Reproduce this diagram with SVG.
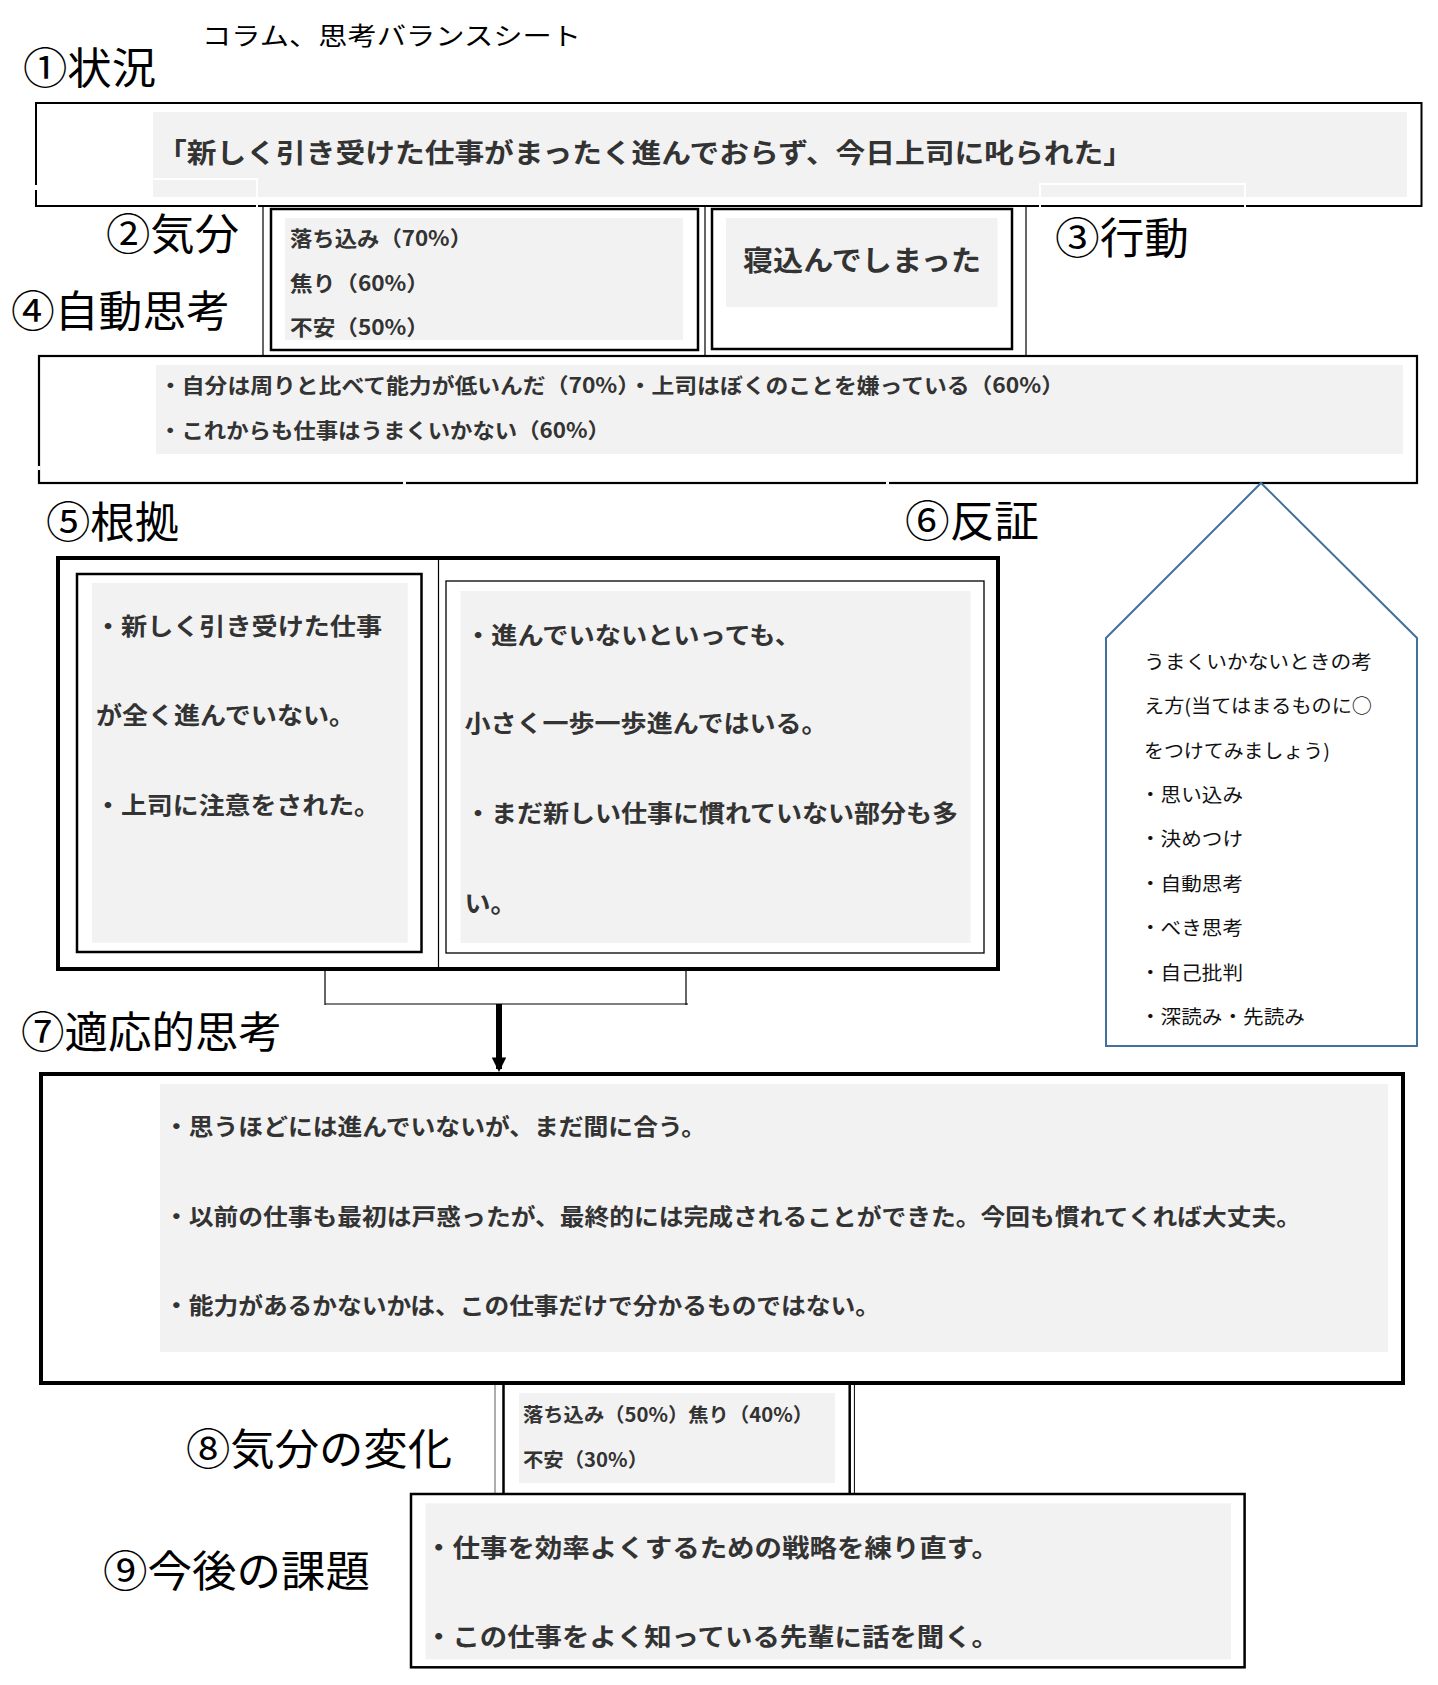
<svg xmlns="http://www.w3.org/2000/svg" width="1438" height="1685" viewBox="0 0 1438 1685">
<defs>
<style>
.h{font-family:"Noto Sans CJK JP","Noto Sans CJK SC",sans-serif;font-size:43px;fill:#000;}
.ti{font-family:"Noto Sans CJK JP","Noto Sans CJK SC",sans-serif;font-size:25px;fill:#000;}
.t{font-family:"Noto Sans CJK JP","Noto Sans CJK SC",sans-serif;font-weight:700;fill:#333;}
.m{font-family:"Noto Sans CJK JP","Noto Sans CJK SC",sans-serif;font-size:19px;fill:#111;}
.bg{fill:#f2f2f2;}
.bx{fill:#fff;stroke:#000;}
.ln{fill:none;stroke:#000;}
.wh{fill:none;stroke:#fff;stroke-width:2;}
</style>
<marker id="ah" viewBox="0 0 10 10" refX="8" refY="5" markerWidth="2.4" markerHeight="2.4" orient="auto" markerUnits="strokeWidth">
<path d="M0,0 L10,5 L0,10 z" fill="#000"/>
</marker>
</defs>
<rect width="1438" height="1685" fill="#fff"/>

<text class="ti" x="202" y="45" textLength="379" lengthAdjust="spacingAndGlyphs">コラム、思考バランスシート</text>

<g id="labels">
<text class="h" x="23" y="84" textLength="133" lengthAdjust="spacingAndGlyphs">①状況</text>
<text class="h" x="106" y="250" textLength="133" lengthAdjust="spacingAndGlyphs">②気分</text>
<text class="h" x="1055" y="254" textLength="134" lengthAdjust="spacingAndGlyphs">③行動</text>
<text class="h" x="11" y="327" textLength="219" lengthAdjust="spacingAndGlyphs">④自動思考</text>
<text class="h" x="46" y="538" textLength="133" lengthAdjust="spacingAndGlyphs">⑤根拠</text>
<text class="h" x="905" y="537" textLength="134" lengthAdjust="spacingAndGlyphs">⑥反証</text>
<text class="h" x="21" y="1048" textLength="261" lengthAdjust="spacingAndGlyphs">⑦適応的思考</text>
<text class="h" x="186" y="1465" textLength="266" lengthAdjust="spacingAndGlyphs">⑧気分の変化</text>
<text class="h" x="103" y="1587" textLength="267" lengthAdjust="spacingAndGlyphs">⑨今後の課題</text>
</g>

<g id="situation">
<rect class="bx" x="36" y="103" width="1385.5" height="103" stroke-width="2"/>
<rect class="bg" x="153" y="112" width="1254" height="85"/>
<text class="t" x="157" y="163" font-size="27" textLength="976" lengthAdjust="spacingAndGlyphs">「新しく引き受けた仕事がまったく進んでおらず、今日上司に叱られた」</text>
<path class="wh" d="M153,179 H257 V209"/>
<path class="wh" d="M1040,209 V184 H1245 V209"/>
<path d="M36,185 V190" stroke="#fff" stroke-width="3"/>
</g>

<g id="frame-lines">
<path class="ln" stroke-width="1.2" d="M263,206 V358 M705,206 V358 M1026,206 V358"/>
</g>

<g id="mood">
<rect class="bx" x="271" y="209" width="427" height="141" stroke-width="2.5"/>
<rect class="bg" x="285" y="218" width="398" height="122"/>
<text class="t" x="290" y="246" font-size="21" textLength="182" lengthAdjust="spacingAndGlyphs">落ち込み（70%）</text>
<text class="t" x="290" y="291" font-size="21" textLength="139" lengthAdjust="spacingAndGlyphs">焦り（60%）</text>
<text class="t" x="290" y="335" font-size="21" textLength="139" lengthAdjust="spacingAndGlyphs">不安（50%）</text>
</g>

<g id="action">
<rect class="bx" x="712" y="209" width="300" height="140" stroke-width="2.5"/>
<rect class="bg" x="726" y="218" width="271.5" height="89"/>
<text class="t" x="743" y="271" font-size="28" textLength="238" lengthAdjust="spacingAndGlyphs">寝込んでしまった</text>
</g>

<g id="auto-thought">
<rect class="bx" x="39" y="356" width="1378" height="127" stroke-width="2.2"/>
<rect class="bg" x="156" y="365" width="1247" height="89"/>
<text class="t" x="159" y="393" font-size="21" textLength="905" lengthAdjust="spacingAndGlyphs">・自分は周りと比べて能力が低いんだ（70%）・上司はぼくのことを嫌っている（60%）</text>
<text class="t" x="159" y="438" font-size="21" textLength="451" lengthAdjust="spacingAndGlyphs">・これからも仕事はうまくいかない（60%）</text>
<path d="M39,466 V470 M403,483 H406 M886,483 H889" stroke="#fff" stroke-width="3"/>
</g>

<g id="evidence">
<rect class="bx" x="58" y="558" width="940" height="411" stroke-width="4"/>
<path class="ln" stroke-width="1.2" d="M438.5,560 V967"/>
<rect class="bx" x="77" y="574" width="344.5" height="378" stroke-width="2.5"/>
<rect class="bg" x="92" y="583" width="315.7" height="359.7"/>
<text class="t" x="95" y="635" font-size="24" textLength="287" lengthAdjust="spacingAndGlyphs">・新しく引き受けた仕事</text>
<text class="t" x="96" y="724" font-size="24" textLength="259" lengthAdjust="spacingAndGlyphs">が全く進んでいない。</text>
<text class="t" x="95" y="814" font-size="24" textLength="285" lengthAdjust="spacingAndGlyphs">・上司に注意をされた。</text>
</g>

<g id="counter">
<rect class="bx" x="446" y="581" width="538" height="372" stroke-width="1.3"/>
<rect class="bg" x="460.5" y="591" width="510" height="352"/>
<text class="t" x="465" y="644" font-size="24" textLength="336" lengthAdjust="spacingAndGlyphs">・進んでいないといっても、</text>
<text class="t" x="464.5" y="732" font-size="24" textLength="363" lengthAdjust="spacingAndGlyphs">小さく一歩一歩進んではいる。</text>
<text class="t" x="465" y="822" font-size="24" textLength="493" lengthAdjust="spacingAndGlyphs">・まだ新しい仕事に慣れていない部分も多</text>
<text class="t" x="464.5" y="912" font-size="24" textLength="52" lengthAdjust="spacingAndGlyphs">い。</text>
</g>

<g id="hint">
<path d="M1261,483 L1417,638 L1417,1046 L1106,1046 L1106,638 Z" fill="#fff" stroke="#41719c" stroke-width="2"/>
<text class="m" x="1144" y="669" textLength="228" lengthAdjust="spacingAndGlyphs">うまくいかないときの考</text>
<text class="m" x="1144" y="713" textLength="228" lengthAdjust="spacingAndGlyphs">え方(当てはまるものに○</text>
<text class="m" x="1144" y="758" textLength="186" lengthAdjust="spacingAndGlyphs">をつけてみましょう)</text>
<text class="m" x="1140" y="802" textLength="103" lengthAdjust="spacingAndGlyphs">・思い込み</text>
<text class="m" x="1140" y="846" textLength="103" lengthAdjust="spacingAndGlyphs">・決めつけ</text>
<text class="m" x="1140" y="891" textLength="103" lengthAdjust="spacingAndGlyphs">・自動思考</text>
<text class="m" x="1140" y="935" textLength="103" lengthAdjust="spacingAndGlyphs">・べき思考</text>
<text class="m" x="1140" y="980" textLength="103" lengthAdjust="spacingAndGlyphs">・自己批判</text>
<text class="m" x="1140" y="1024" textLength="165" lengthAdjust="spacingAndGlyphs">・深読み・先読み</text>
</g>

<g id="connectors">
<path class="ln" stroke-width="1.2" d="M325,970 V1005 M686,970 V1005 M325,1004 H688"/>
<path class="ln" stroke-width="6" d="M499,1004 V1069" marker-end="url(#ah)"/>
</g>

<g id="adaptive">
<rect class="bx" x="41" y="1074" width="1362" height="309" stroke-width="4"/>
<rect class="bg" x="160" y="1084" width="1228" height="268"/>
<text class="t" x="164" y="1135" font-size="23" textLength="542" lengthAdjust="spacingAndGlyphs">・思うほどには進んでいないが、まだ間に合う。</text>
<text class="t" x="164" y="1225" font-size="23" textLength="1137" lengthAdjust="spacingAndGlyphs">・以前の仕事も最初は戸惑ったが、最終的には完成されることができた。今回も慣れてくれば大丈夫。</text>
<text class="t" x="164" y="1314" font-size="23" textLength="716" lengthAdjust="spacingAndGlyphs">・能力があるかないかは、この仕事だけで分かるものではない。</text>
</g>

<g id="mood-change">
<path fill="none" stroke="#777" stroke-width="1.2" d="M495,1385 V1494"/>
<path class="ln" stroke-width="2.5" d="M503.5,1385 V1494 M849.7,1385 V1494"/>
<path class="ln" stroke-width="1" d="M854.4,1385 V1494"/>
<rect class="bg" x="519" y="1393" width="316" height="90"/>
<text class="t" x="523" y="1422" font-size="19.5" textLength="290" lengthAdjust="spacingAndGlyphs">落ち込み（50%）焦り（40%）</text>
<text class="t" x="523" y="1467" font-size="19.5" textLength="125" lengthAdjust="spacingAndGlyphs">不安（30%）</text>
</g>

<g id="future">
<rect class="bx" x="411" y="1494" width="833.6" height="173.3" stroke-width="2.5"/>
<rect class="bg" x="425.5" y="1503.3" width="805.5" height="156"/>
<text class="t" x="425" y="1557" font-size="25" textLength="574" lengthAdjust="spacingAndGlyphs">・仕事を効率よくするための戦略を練り直す。</text>
<text class="t" x="425" y="1646" font-size="25" textLength="574" lengthAdjust="spacingAndGlyphs">・この仕事をよく知っている先輩に話を聞く。</text>
</g>
</svg>
